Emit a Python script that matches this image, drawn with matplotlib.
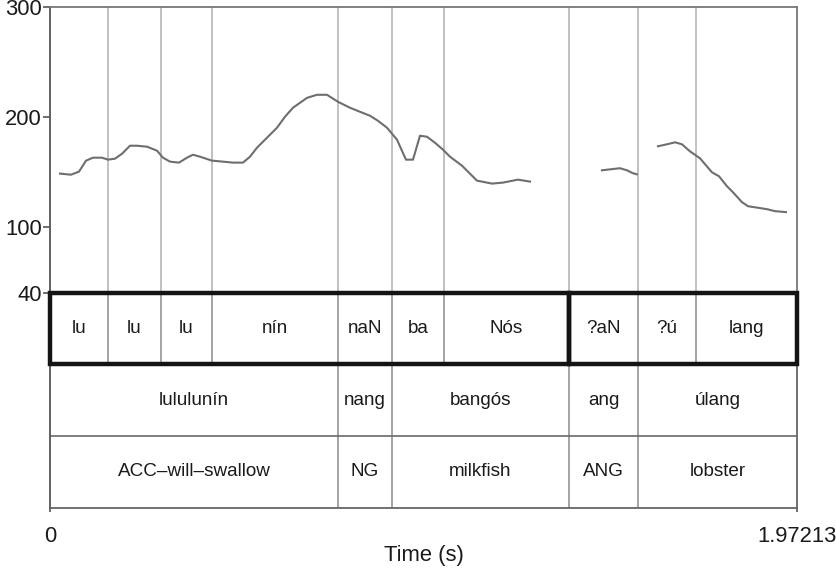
import matplotlib
matplotlib.use("Agg")
import matplotlib.pyplot as plt
from matplotlib.patches import Rectangle

plt.rcParams["font.family"] = ["Liberation Sans", "DejaVu Sans"]

T_END = 1.97213

# Pitch track (Hz), three voiced stretches
f0_t1 = [0.0264, 0.0554, 0.0766, 0.0950, 0.1135, 0.1373, 0.1531, 0.1716, 0.1901,
         0.2112, 0.2297, 0.2561, 0.2825, 0.2983, 0.3168, 0.3405, 0.3617, 0.3775,
         0.3960, 0.4277, 0.4567, 0.4831, 0.5095, 0.5280, 0.5465, 0.5729, 0.5993,
         0.6204, 0.6415, 0.6785, 0.7049, 0.7313, 0.7603, 0.7920, 0.8184, 0.8448,
         0.8659, 0.8897, 0.9161, 0.9398, 0.9583, 0.9768, 0.9952, 1.0164, 1.0375,
         1.0560, 1.0877, 1.1272, 1.1668, 1.1959, 1.2355, 1.2672]
f0_v1 = [148.5, 147.5, 150.3, 160.3, 163.0, 163.0, 161.2, 162.1, 166.6,
         173.9, 173.9, 173.0, 169.4, 163.0, 159.4, 158.5, 163.0, 165.7,
         163.9, 160.3, 159.4, 158.5, 158.5, 163.9, 172.1, 181.2, 190.3,
         200.3, 208.5, 217.5, 220.3, 220.3, 213.9, 208.5, 204.8, 201.2,
         196.6, 190.3, 179.4, 161.2, 161.2, 183.0, 182.1, 176.6, 170.3,
         163.9, 155.7, 142.1, 139.4, 140.3, 143.0, 141.2]
f0_t2 = [1.4572, 1.5048, 1.5232, 1.5391, 1.5491]
f0_v2 = [151.5, 153.4, 151.5, 148.8, 147.9]
f0_t3 = [1.6051, 1.6288, 1.6500, 1.6684, 1.6895, 1.7159, 1.7476, 1.7661, 1.7872,
         1.8031, 1.8268, 1.8427, 1.8928, 1.9139, 1.9430]
f0_v3 = [173.4, 175.2, 177.0, 175.2, 168.8, 162.5, 149.7, 146.1, 137.0,
         131.5, 122.5, 118.8, 116.1, 114.3, 113.4]

# TextGrid tiers
syl_bounds = [0, 0.1531, 0.2930, 0.4277, 0.7603, 0.9029, 1.0401, 1.3701, 1.5523, 1.7054, T_END]
syl_labels = ["lu", "lu", "lu", "nín", "naN", "ba", "Nós", "?aN", "?ú", "lang"]
word_bounds = [0, 0.7603, 0.9029, 1.3701, 1.5523, T_END]
word_labels = ["lululunín", "nang", "bangós", "ang", "úlang"]
gloss_labels = ["ACC–will–swallow", "NG", "milkfish", "ANG", "lobster"]
phrase_bounds = [0, 1.3701, T_END]

W, H = 837, 573
fig = plt.figure(figsize=(W / 100, H / 100), dpi=100)

left, right = 50, 797
p_top, p_bot = 7.3, 292.7
g_bot = 507.7

ax = fig.add_axes([left / W, 1 - p_bot / H, (right - left) / W, (p_bot - p_top) / H])
tg = fig.add_axes([left / W, 1 - g_bot / H, (right - left) / W, (g_bot - p_bot) / H])

spine_c = "#555555"
text_c = "#1a1a1a"
tier_fs = 13.6
axis_fs = 15.8

# pitch panel
for b in syl_bounds[1:-1]:
    ax.axvline(b, color="#bcbcbc", lw=1.3, zorder=1)
for tt, vv in [(f0_t1, f0_v1), (f0_t2, f0_v2), (f0_t3, f0_v3)]:
    ax.plot(tt, vv, color="#6e6e6e", lw=1.5, zorder=3)
ax.set_xlim(0, T_END)
ax.set_ylim(40, 300)
ax.set_yticks([40, 100, 200, 300])
ax.set_yticklabels(["40", "100", "200", "300"])
ax.set_xticks([])
ax.tick_params(axis="y", direction="out", length=5, width=1.2, color=spine_c,
               labelsize=axis_fs, labelcolor=text_c, pad=1)
ax.spines["bottom"].set_visible(False)
for s in ["left", "top", "right"]:
    ax.spines[s].set_color(spine_c)
    ax.spines[s].set_linewidth(1.3)
ax.spines["top"].set_color("#777777")
ax.spines["right"].set_color("#777777")

# tier panel
tg.set_xlim(0, T_END)
tg.set_ylim(0, 3)
tg.set_yticks([])
for b in syl_bounds[1:-1]:
    tg.plot([b, b], [2, 3], color="#8c8c8c", lw=1.1, zorder=1)
for b in word_bounds[1:-1]:
    tg.plot([b, b], [0, 2], color="#8c8c8c", lw=1.1, zorder=1)
tg.axhline(1, color="#6a6a6a", lw=1.2, zorder=1)

for a, b in zip(phrase_bounds[:-1], phrase_bounds[1:]):
    tg.add_patch(Rectangle((a, 2), b - a, 1, fill=False, ec="#141414", lw=3.2,
                           zorder=4, clip_on=False))

for i, lab in enumerate(syl_labels):
    tg.text((syl_bounds[i] + syl_bounds[i + 1]) / 2, 2.5, lab, ha="center", va="center",
            fontsize=tier_fs, color=text_c)
for i, lab in enumerate(word_labels):
    tg.text((word_bounds[i] + word_bounds[i + 1]) / 2, 1.5, lab, ha="center", va="center",
            fontsize=tier_fs, color=text_c)
for i, lab in enumerate(gloss_labels):
    tg.text((word_bounds[i] + word_bounds[i + 1]) / 2, 0.5, lab, ha="center", va="center",
            fontsize=tier_fs, color=text_c)

tg.set_xticks([0, T_END])
tg.set_xticklabels(["0", "1.97213"])
tg.tick_params(axis="x", direction="out", length=3, width=1.2, color=spine_c,
               labelsize=axis_fs, labelcolor=text_c, pad=10)
tg.set_xlabel("Time (s)", fontsize=axis_fs, color=text_c, labelpad=-1)
tg.spines["top"].set_visible(False)
for s in ["left", "bottom", "right"]:
    tg.spines[s].set_color("#666666")
    tg.spines[s].set_linewidth(1.3)
tg.spines["left"].set_color(spine_c)

fig.savefig("out.png", dpi=100)
